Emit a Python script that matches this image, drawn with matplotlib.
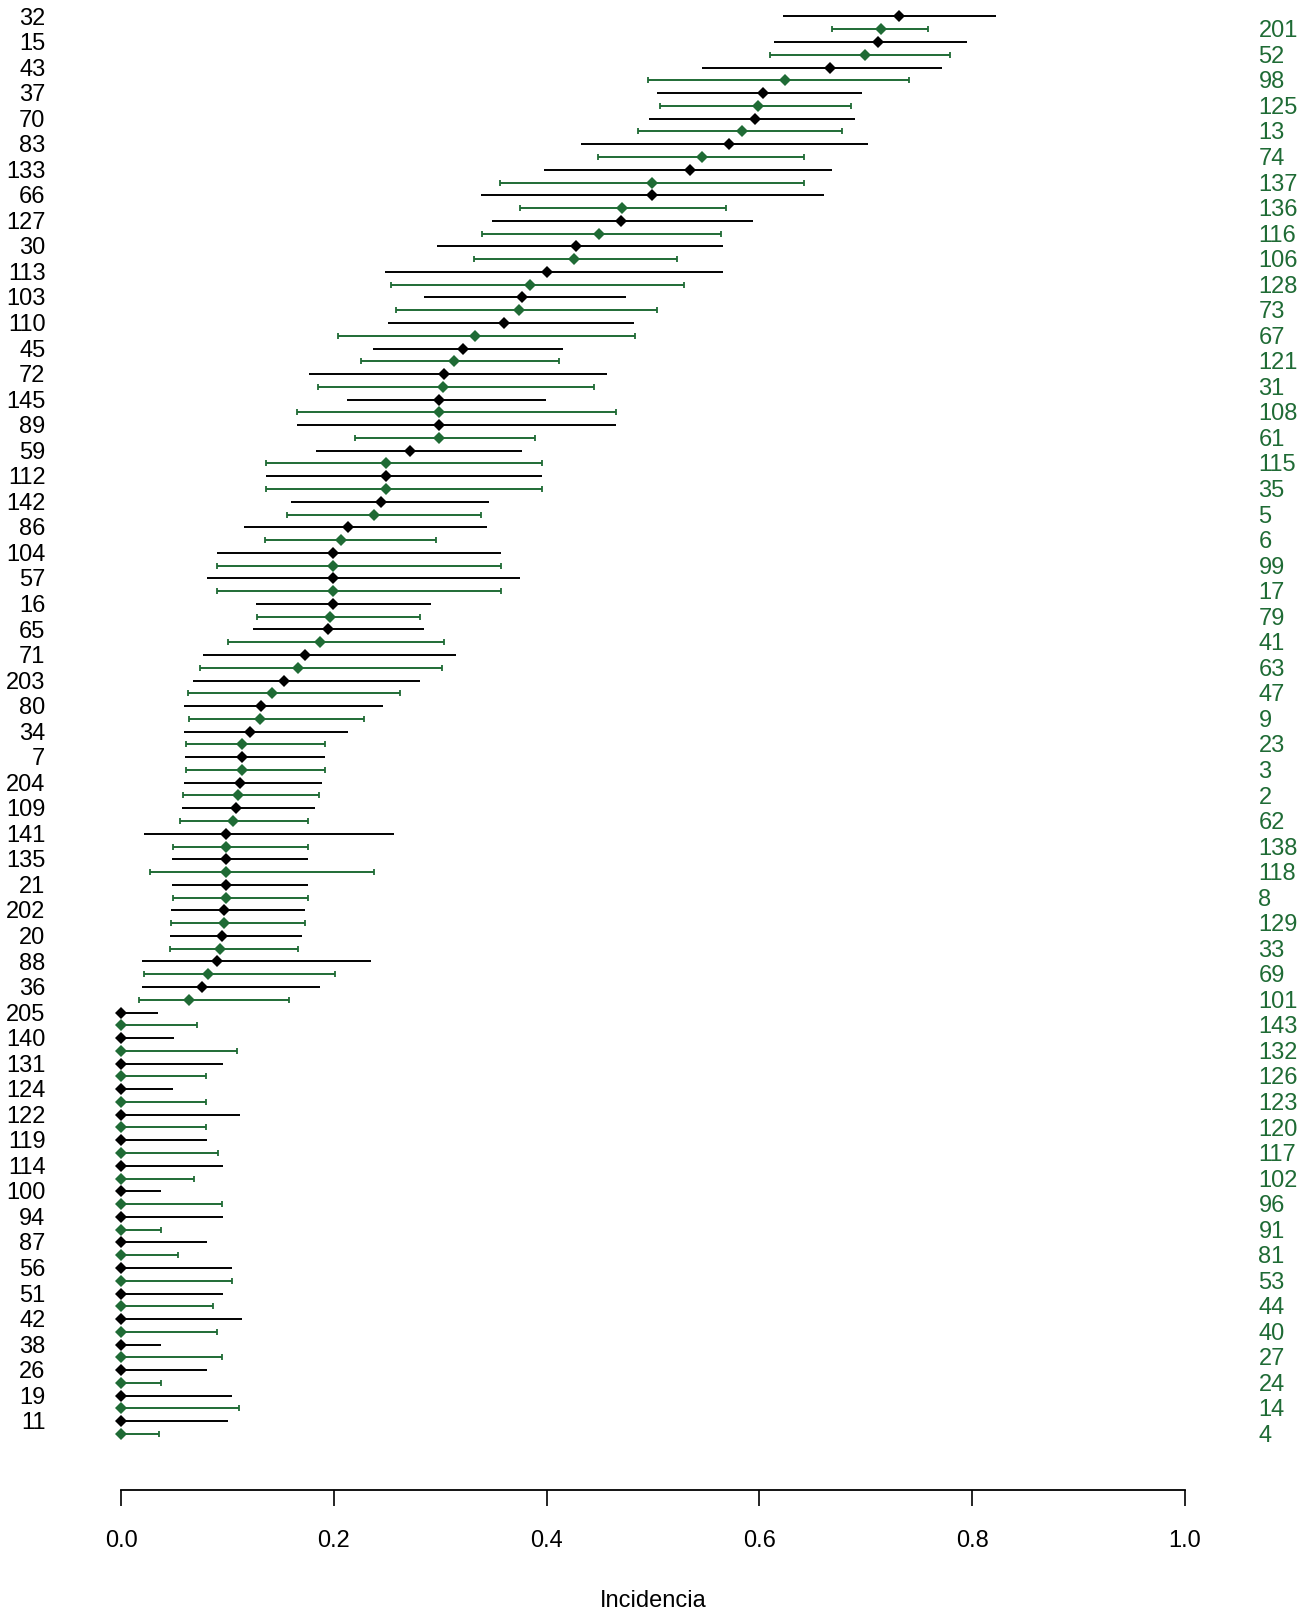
import matplotlib
matplotlib.use("Agg")
import matplotlib.pyplot as plt
import numpy as np

# grupo 1 (negro, etiquetas a la izquierda)
ids_a = ["32", "15", "43", "37", "70", "83", "133", "66", "127", "30", "113", "103", "110", "45",
         "72", "145", "89", "59", "112", "142", "86", "104", "57", "16", "65", "71", "203", "80",
         "34", "7", "204", "109", "141", "135", "21", "202", "20", "88", "36", "205", "140", "131",
         "124", "122", "119", "114", "100", "94", "87", "56", "51", "42", "38", "26", "19", "11"]
inc_a = [0.731, 0.711, 0.666, 0.603, 0.596, 0.571, 0.535, 0.499, 0.470, 0.428, 0.400, 0.377,
         0.360, 0.321, 0.304, 0.299, 0.299, 0.272, 0.249, 0.244, 0.213, 0.199, 0.199, 0.199,
         0.195, 0.173, 0.153, 0.132, 0.121, 0.114, 0.112, 0.108, 0.099, 0.099, 0.099, 0.097,
         0.095, 0.090, 0.076, 0, 0, 0, 0, 0, 0, 0, 0, 0, 0, 0, 0, 0, 0, 0, 0, 0]
lo_a = [0.622, 0.614, 0.546, 0.504, 0.496, 0.432, 0.398, 0.338, 0.349, 0.297, 0.248, 0.285,
        0.251, 0.237, 0.177, 0.212, 0.165, 0.183, 0.136, 0.160, 0.116, 0.090, 0.081, 0.127,
        0.124, 0.077, 0.068, 0.059, 0.059, 0.060, 0.059, 0.057, 0.022, 0.048, 0.048, 0.047,
        0.046, 0.020, 0.020, 0, 0, 0, 0, 0, 0, 0, 0, 0, 0, 0, 0, 0, 0, 0, 0, 0]
hi_a = [0.822, 0.795, 0.772, 0.696, 0.690, 0.702, 0.668, 0.661, 0.594, 0.566, 0.566, 0.475,
        0.482, 0.415, 0.457, 0.399, 0.465, 0.377, 0.396, 0.346, 0.344, 0.357, 0.375, 0.291,
        0.285, 0.315, 0.281, 0.246, 0.213, 0.192, 0.189, 0.182, 0.257, 0.176, 0.176, 0.173,
        0.170, 0.235, 0.187, 0.035, 0.050, 0.096, 0.049, 0.112, 0.081, 0.096, 0.038, 0.096,
        0.081, 0.104, 0.096, 0.114, 0.038, 0.081, 0.104, 0.101]

# grupo 2 (verde, etiquetas a la derecha)
ids_b = ["201", "52", "98", "125", "13", "74", "137", "136", "116", "106", "128", "73", "67", "121",
         "31", "108", "61", "115", "35", "5", "6", "99", "17", "79", "41", "63", "47", "9", "23",
         "3", "2", "62", "138", "118", "8", "129", "33", "69", "101", "143", "132", "126", "123",
         "120", "117", "102", "96", "91", "81", "53", "44", "40", "27", "24", "14", "4"]
inc_b = [0.714, 0.699, 0.624, 0.599, 0.584, 0.546, 0.499, 0.471, 0.449, 0.426, 0.384, 0.374,
         0.333, 0.313, 0.303, 0.299, 0.299, 0.249, 0.249, 0.238, 0.207, 0.199, 0.199, 0.196,
         0.187, 0.166, 0.142, 0.131, 0.114, 0.114, 0.110, 0.105, 0.099, 0.099, 0.099, 0.097,
         0.093, 0.082, 0.064, 0, 0, 0, 0, 0, 0, 0, 0, 0, 0, 0, 0, 0, 0, 0, 0, 0]
lo_b = [0.668, 0.610, 0.495, 0.507, 0.486, 0.448, 0.356, 0.375, 0.339, 0.332, 0.254, 0.258,
        0.204, 0.226, 0.185, 0.165, 0.220, 0.136, 0.136, 0.156, 0.135, 0.090, 0.090, 0.128,
        0.101, 0.074, 0.063, 0.064, 0.061, 0.061, 0.058, 0.055, 0.049, 0.027, 0.049, 0.047,
        0.046, 0.022, 0.017, 0, 0, 0, 0, 0, 0, 0, 0, 0, 0, 0, 0, 0, 0, 0, 0, 0]
hi_b = [0.758, 0.779, 0.741, 0.686, 0.678, 0.642, 0.642, 0.569, 0.564, 0.523, 0.529, 0.504,
        0.483, 0.412, 0.445, 0.465, 0.389, 0.396, 0.396, 0.338, 0.296, 0.357, 0.357, 0.281,
        0.304, 0.302, 0.262, 0.228, 0.192, 0.192, 0.186, 0.176, 0.176, 0.238, 0.176, 0.173,
        0.166, 0.201, 0.158, 0.071, 0.109, 0.080, 0.080, 0.080, 0.091, 0.069, 0.095, 0.038,
        0.054, 0.104, 0.086, 0.090, 0.095, 0.038, 0.111, 0.036]

verde = "#1f6b35"
n = len(ids_a)
ya = np.arange(n)
yb = ya + 0.5

W, H = 1307, 1613
fig = plt.figure(figsize=(W / 100, H / 100), dpi=100)
# eje: 0 -> 121 px, 1 -> 1185 px; linea del eje a 1490 px desde arriba
ax = fig.add_axes([121 / W, (H - 1490) / H, 1064 / W, 1490 / H])

inc_a = np.array(inc_a); inc_b = np.array(inc_b)
ax.hlines(ya, lo_a, hi_a, color="black", lw=1.4, clip_on=False)
ax.errorbar(inc_b, yb, xerr=[inc_b - np.array(lo_b), np.array(hi_b) - inc_b], fmt="none",
            ecolor=verde, elinewidth=1.4, capsize=2, capthick=1.3, clip_on=False)
ax.plot(inc_a, ya, "D", color="black", ms=6.5, mew=0, clip_on=False)
ax.plot(inc_b, yb, "D", color=verde, ms=6.5, mew=0, clip_on=False)

fs = 17
fam = ["Liberation Sans", "DejaVu Sans"]
dy = 0.08  # pequeño ajuste vertical del texto
for y, t in zip(ya, ids_a):
    ax.text(-0.071, y + dy, t, ha="right", va="center", fontsize=fs, family=fam)
for y, t in zip(yb, ids_b):
    ax.text(1.069, y + dy, t, ha="left", va="center", fontsize=fs, family=fam, color=verde)

sp = 25.54
ax.set_xlim(0, 1)
ax.set_ylim((1490 - 16.5) / sp, -16.5 / sp)
for s in ["top", "left", "right"]:
    ax.spines[s].set_visible(False)
ax.spines["bottom"].set_bounds(0, 1)
ax.spines["bottom"].set_linewidth(1.3)
ax.set_yticks([])
ax.set_xticks(np.arange(0, 1.01, 0.2))
ax.set_xticklabels(["0.0", "0.2", "0.4", "0.6", "0.8", "1.0"], family=fam)
ax.tick_params(axis="x", direction="out", length=11.5, width=1.2, pad=17.5, labelsize=fs)
ax.set_xlabel("Incidencia", fontsize=fs, family=fam, labelpad=27)
ax.patch.set_alpha(0)

fig.savefig("out.png", dpi=100)
